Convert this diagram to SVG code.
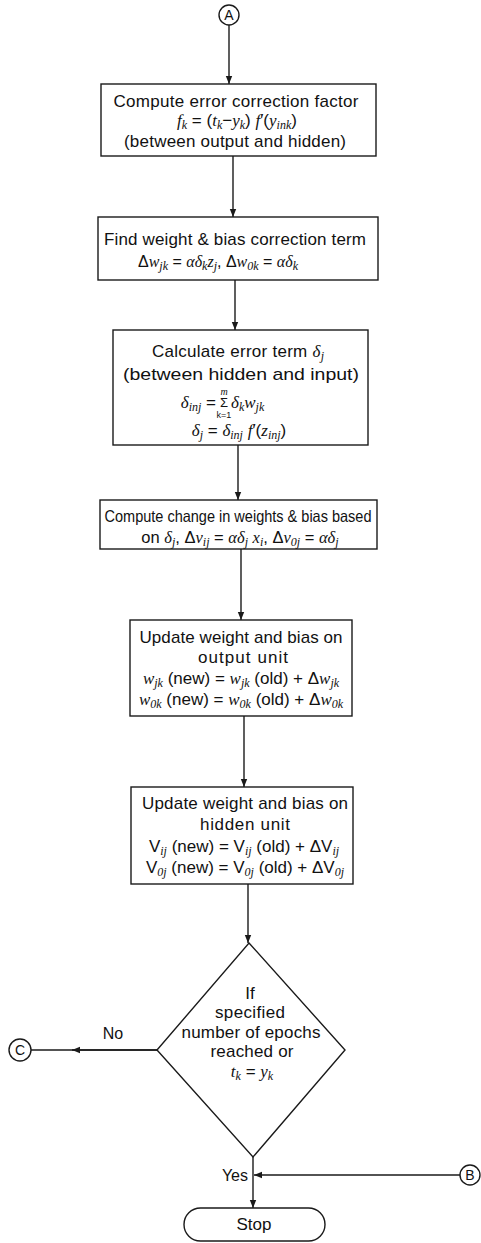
<svg xmlns="http://www.w3.org/2000/svg" width="481" height="1243" viewBox="0 0 481 1243">
<defs>
<style>
.box{fill:#fff;stroke:#1a1a1a;stroke-width:1.4}
.ln{fill:none;stroke:#1a1a1a;stroke-width:1.4}
.t{font-family:"Liberation Sans",Arial,sans-serif;font-size:17px;fill:#111;text-anchor:middle}
.t4{font-size:16.5px}
.m{font-family:"Liberation Serif","Times New Roman",serif;font-style:italic}
.s{font-size:12px}
.c{font-family:"Liberation Sans",Arial,sans-serif;font-size:14px;fill:#111;text-anchor:middle}
</style>
<marker id="ah" viewBox="0 0 10 10" refX="10" refY="5" markerWidth="8" markerHeight="8" markerUnits="userSpaceOnUse" orient="auto">
<path d="M0,1 L10,5 L0,9 z" fill="#1a1a1a"/>
</marker>
</defs>
<rect width="481" height="1243" fill="#fff"/>

<g id="connectors">
<line class="ln" x1="229" y1="25" x2="229" y2="84" marker-end="url(#ah)"/>
<line class="ln" x1="233" y1="156" x2="233" y2="217" marker-end="url(#ah)"/>
<line class="ln" x1="235" y1="280" x2="235" y2="330" marker-end="url(#ah)"/>
<line class="ln" x1="238" y1="445" x2="238" y2="500" marker-end="url(#ah)"/>
<line class="ln" x1="241" y1="549" x2="241" y2="620" marker-end="url(#ah)"/>
<line class="ln" x1="244" y1="716" x2="244" y2="787" marker-end="url(#ah)"/>
<line class="ln" x1="248" y1="884" x2="248" y2="943" marker-end="url(#ah)"/>
<line class="ln" x1="157" y1="1050" x2="31" y2="1050"/>
<line class="ln" x1="157" y1="1050" x2="72" y2="1050" marker-end="url(#ah)"/>
<line class="ln" x1="253" y1="1157" x2="253" y2="1208" marker-end="url(#ah)"/>
<line class="ln" x1="461" y1="1175" x2="254" y2="1175" marker-end="url(#ah)"/>
<text class="t" x="113" y="1039" style="font-size:16px">No</text>
<text class="t" x="248" y="1181" style="font-size:16px;text-anchor:end">Yes</text>
</g>

<g id="connA">
<circle class="box" cx="229" cy="15" r="10"/>
<text class="c" x="229" y="20">A</text>
</g>

<g id="box1">
<rect class="box" x="101" y="84" width="275" height="72"/>
<text class="t" x="236" y="107" textLength="245">Compute error correction factor</text>
<text class="t" x="237" y="126"><tspan class="m">f</tspan><tspan class="m s" baseline-shift="-3">k</tspan> = (<tspan class="m">t</tspan><tspan class="m s" baseline-shift="-3">k</tspan>−<tspan class="m">y</tspan><tspan class="m s" baseline-shift="-3">k</tspan>) <tspan class="m">f</tspan>′(<tspan class="m">y</tspan><tspan class="m s" baseline-shift="-3">ink</tspan>)</text>
<text class="t" x="235" y="147" textLength="222">(between output and hidden)</text>
</g>

<g id="box2">
<rect class="box" x="98" y="217" width="280" height="63"/>
<text class="t" x="235" y="245" textLength="262">Find weight &amp; bias correction term</text>
<text class="t" x="218" y="267" style="font-size:16px">Δ<tspan class="m">w</tspan><tspan class="m s" baseline-shift="-3">jk</tspan> = <tspan class="m">αδ</tspan><tspan class="m s" baseline-shift="-3">k</tspan><tspan class="m">z</tspan><tspan class="m s" baseline-shift="-3">j</tspan>, Δ<tspan class="m">w</tspan><tspan class="m s" baseline-shift="-3">0k</tspan> = <tspan class="m">αδ</tspan><tspan class="m s" baseline-shift="-3">k</tspan></text>
</g>

<g id="box3">
<rect class="box" x="113" y="330" width="255" height="115"/>
<text class="t" x="238" y="357" textLength="172">Calculate error term <tspan class="m">δ</tspan><tspan class="m s" baseline-shift="-3">j</tspan></text>
<text class="t" x="241" y="380" textLength="236" lengthAdjust="spacingAndGlyphs">(between hidden and input)</text>
<text class="t" x="216" y="408" style="text-anchor:end"><tspan class="m">δ</tspan><tspan class="m s" baseline-shift="-3">inj</tspan> =</text>
<text class="t" x="224" y="407" style="font-size:13px">Σ</text>
<text class="t m" x="224" y="395" style="font-size:10px">m</text>
<text class="t" x="224" y="418" style="font-size:9px">k=1</text>
<text class="t" x="231" y="408" style="text-anchor:start"><tspan class="m">δ</tspan><tspan class="m s" baseline-shift="-3">k</tspan><tspan class="m">w</tspan><tspan class="m s" baseline-shift="-3">jk</tspan></text>
<text class="t" x="239" y="436"><tspan class="m">δ</tspan><tspan class="m s" baseline-shift="-3">j</tspan> = <tspan class="m">δ</tspan><tspan class="m s" baseline-shift="-3">inj</tspan> <tspan class="m">f</tspan>′(<tspan class="m">z</tspan><tspan class="m s" baseline-shift="-3">inj</tspan>)</text>
</g>

<g id="box4">
<rect class="box" x="100" y="500" width="277" height="49"/>
<text class="t t4" x="238" y="522" textLength="267" lengthAdjust="spacingAndGlyphs">Compute change in weights &amp; bias based</text>
<text class="t t4" x="240" y="543">on <tspan class="m">δ</tspan><tspan class="m s" baseline-shift="-3">j</tspan>, Δ<tspan class="m">v</tspan><tspan class="m s" baseline-shift="-3">ij</tspan> = <tspan class="m">αδ</tspan><tspan class="m s" baseline-shift="-3">j</tspan> <tspan class="m">x</tspan><tspan class="m s" baseline-shift="-3">i</tspan>, Δ<tspan class="m">v</tspan><tspan class="m s" baseline-shift="-3">0j</tspan> = <tspan class="m">αδ</tspan><tspan class="m s" baseline-shift="-3">j</tspan></text>
</g>

<g id="box5">
<rect class="box" x="130" y="620" width="222" height="96"/>
<text class="t" x="241" y="643" textLength="203">Update weight and bias on</text>
<text class="t" x="243" y="663" textLength="90">output unit</text>
<text class="t" x="241" y="684"><tspan class="m">w</tspan><tspan class="m s" baseline-shift="-3">jk</tspan> (new) = <tspan class="m">w</tspan><tspan class="m s" baseline-shift="-3">jk</tspan> (old) + Δ<tspan class="m">w</tspan><tspan class="m s" baseline-shift="-3">jk</tspan></text>
<text class="t" x="241" y="705"><tspan class="m">w</tspan><tspan class="m s" baseline-shift="-3">0k</tspan> (new) = <tspan class="m">w</tspan><tspan class="m s" baseline-shift="-3">0k</tspan> (old) + Δ<tspan class="m">w</tspan><tspan class="m s" baseline-shift="-3">0k</tspan></text>
</g>

<g id="box6">
<rect class="box" x="131" y="787" width="222" height="97"/>
<text class="t" x="245" y="809" textLength="206">Update weight and bias on</text>
<text class="t" x="245" y="830" textLength="90">hidden unit</text>
<text class="t" x="244" y="852">V<tspan class="m s" baseline-shift="-3">ij</tspan> (new) = V<tspan class="m s" baseline-shift="-3">ij</tspan> (old) + ΔV<tspan class="m s" baseline-shift="-3">ij</tspan></text>
<text class="t" x="245" y="873">V<tspan class="m s" baseline-shift="-3">0j</tspan> (new) = V<tspan class="m s" baseline-shift="-3">0j</tspan> (old) + ΔV<tspan class="m s" baseline-shift="-3">0j</tspan></text>
</g>

<g id="decision">
<polygon class="box" points="249,943 345,1050 253,1157 157,1050"/>
<text class="t" x="250" y="999">If</text>
<text class="t" x="250" y="1018" textLength="70">specified</text>
<text class="t" x="251" y="1038" textLength="139">number of epochs</text>
<text class="t" x="252" y="1057" textLength="83">reached or</text>
<text class="t" x="252" y="1077"><tspan class="m">t</tspan><tspan class="m s" baseline-shift="-3">k</tspan> = <tspan class="m">y</tspan><tspan class="m s" baseline-shift="-3">k</tspan></text>
</g>

<g id="connC">
<circle class="box" cx="20" cy="1050" r="11"/>
<text class="c" x="20" y="1055">C</text>
</g>

<g id="connB">
<circle class="box" cx="470" cy="1175" r="10"/>
<text class="c" x="470" y="1180">B</text>
</g>

<g id="stop">
<rect class="box" x="184" y="1208" width="141" height="33" rx="16.5"/>
<text class="t" x="254" y="1230">Stop</text>
</g>
</svg>
